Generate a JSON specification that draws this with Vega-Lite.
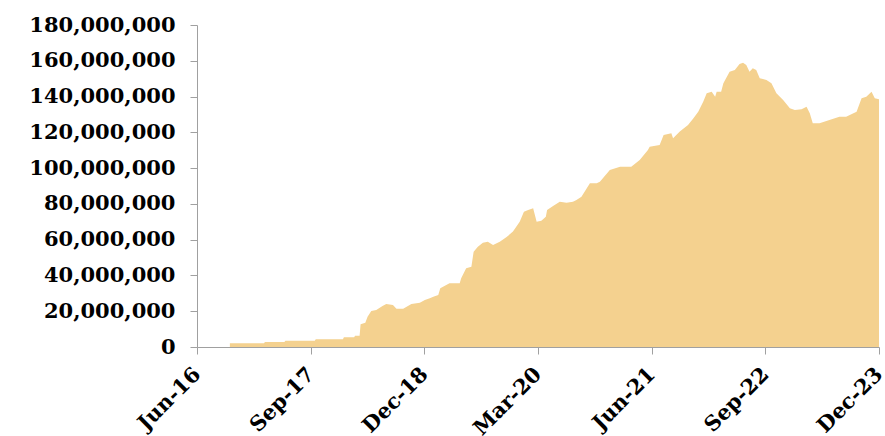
{
  "$schema": "https://vega.github.io/schema/vega-lite/v6.json",
  "width": 682,
  "height": 322,
  "autosize": {"type": "none"},
  "padding": {"left": 197, "top": 25, "right": 6, "bottom": 89},
  "background": "white",
  "config": {"view": {"stroke": null}},
  "data": {"values": [
    {"date": "2016-10-11", "value": 2100000},
    {"date": "2017-02-25", "value": 2100000},
    {"date": "2017-03-01", "value": 2800000},
    {"date": "2017-05-18", "value": 2800000},
    {"date": "2017-05-22", "value": 3500000},
    {"date": "2017-09-17", "value": 3500000},
    {"date": "2017-09-21", "value": 4300000},
    {"date": "2018-01-08", "value": 4300000},
    {"date": "2018-01-12", "value": 5400000},
    {"date": "2018-02-22", "value": 5400000},
    {"date": "2018-02-26", "value": 6300000},
    {"date": "2018-03-16", "value": 6300000},
    {"date": "2018-03-20", "value": 12700000},
    {"date": "2018-04-08", "value": 13600000},
    {"date": "2018-04-17", "value": 16900000},
    {"date": "2018-05-02", "value": 20100000},
    {"date": "2018-05-22", "value": 20700000},
    {"date": "2018-06-16", "value": 22900000},
    {"date": "2018-07-01", "value": 24000000},
    {"date": "2018-07-28", "value": 23500000},
    {"date": "2018-08-11", "value": 21400000},
    {"date": "2018-09-07", "value": 21400000},
    {"date": "2018-10-10", "value": 24000000},
    {"date": "2018-11-13", "value": 24800000},
    {"date": "2018-12-03", "value": 26300000},
    {"date": "2018-12-23", "value": 27200000},
    {"date": "2019-01-06", "value": 28100000},
    {"date": "2019-01-26", "value": 29100000},
    {"date": "2019-02-03", "value": 32800000},
    {"date": "2019-03-12", "value": 35600000},
    {"date": "2019-04-22", "value": 35600000},
    {"date": "2019-04-28", "value": 38400000},
    {"date": "2019-05-18", "value": 44000000},
    {"date": "2019-06-08", "value": 44900000},
    {"date": "2019-06-17", "value": 53300000},
    {"date": "2019-07-04", "value": 56100000},
    {"date": "2019-07-24", "value": 58300000},
    {"date": "2019-08-13", "value": 58900000},
    {"date": "2019-09-03", "value": 57000000},
    {"date": "2019-09-30", "value": 58900000},
    {"date": "2019-10-26", "value": 61300000},
    {"date": "2019-11-22", "value": 64500000},
    {"date": "2019-12-19", "value": 70000000},
    {"date": "2020-01-05", "value": 75600000},
    {"date": "2020-01-22", "value": 76600000},
    {"date": "2020-02-11", "value": 77500000},
    {"date": "2020-02-25", "value": 70000000},
    {"date": "2020-03-15", "value": 70600000},
    {"date": "2020-04-02", "value": 72800000},
    {"date": "2020-04-07", "value": 76600000},
    {"date": "2020-05-01", "value": 78800000},
    {"date": "2020-05-28", "value": 81200000},
    {"date": "2020-06-24", "value": 80700000},
    {"date": "2020-07-20", "value": 81200000},
    {"date": "2020-08-03", "value": 82200000},
    {"date": "2020-08-23", "value": 84000000},
    {"date": "2020-09-26", "value": 91500000},
    {"date": "2020-10-23", "value": 91500000},
    {"date": "2020-11-05", "value": 92400000},
    {"date": "2020-12-15", "value": 99000000},
    {"date": "2021-01-25", "value": 100800000},
    {"date": "2021-03-11", "value": 100800000},
    {"date": "2021-04-14", "value": 104500000},
    {"date": "2021-05-17", "value": 110100000},
    {"date": "2021-05-24", "value": 112000000},
    {"date": "2021-07-03", "value": 112900000},
    {"date": "2021-07-19", "value": 118500000},
    {"date": "2021-08-19", "value": 119500000},
    {"date": "2021-08-26", "value": 116700000},
    {"date": "2021-09-22", "value": 120400000},
    {"date": "2021-10-25", "value": 124100000},
    {"date": "2021-11-15", "value": 127800000},
    {"date": "2021-12-05", "value": 131500000},
    {"date": "2021-12-25", "value": 137100000},
    {"date": "2022-01-08", "value": 141800000},
    {"date": "2022-01-28", "value": 142700000},
    {"date": "2022-02-11", "value": 139900000},
    {"date": "2022-02-17", "value": 142700000},
    {"date": "2022-03-07", "value": 142700000},
    {"date": "2022-03-16", "value": 147400000},
    {"date": "2022-04-10", "value": 153900000},
    {"date": "2022-05-01", "value": 154800000},
    {"date": "2022-05-20", "value": 158200000},
    {"date": "2022-06-03", "value": 158900000},
    {"date": "2022-06-16", "value": 157600000},
    {"date": "2022-06-29", "value": 153900000},
    {"date": "2022-07-12", "value": 155800000},
    {"date": "2022-07-26", "value": 154800000},
    {"date": "2022-08-09", "value": 150200000},
    {"date": "2022-09-05", "value": 149300000},
    {"date": "2022-09-25", "value": 147400000},
    {"date": "2022-10-15", "value": 141800000},
    {"date": "2022-11-11", "value": 138100000},
    {"date": "2022-12-08", "value": 133400000},
    {"date": "2022-12-28", "value": 132500000},
    {"date": "2023-01-24", "value": 132900000},
    {"date": "2023-02-13", "value": 134300000},
    {"date": "2023-02-26", "value": 130600000},
    {"date": "2023-03-10", "value": 125100000},
    {"date": "2023-04-06", "value": 125100000},
    {"date": "2023-05-16", "value": 126900000},
    {"date": "2023-06-25", "value": 128700000},
    {"date": "2023-07-22", "value": 128700000},
    {"date": "2023-09-02", "value": 131500000},
    {"date": "2023-09-22", "value": 139000000},
    {"date": "2023-10-11", "value": 139900000},
    {"date": "2023-11-01", "value": 142700000},
    {"date": "2023-11-14", "value": 139000000},
    {"date": "2023-12-01", "value": 138500000}
  ]},
  "mark": {"type": "area", "color": "#F4D18F", "line": false, "interpolate": "linear"},
  "encoding": {
    "x": {
      "field": "date",
      "type": "temporal",
      "scale": {
        "type": "utc",
        "domain": [
          {"year": 2016, "month": 6, "date": 1, "utc": true},
          {"year": 2023, "month": 12, "date": 1, "utc": true}
        ]
      },
      "axis": {
        "title": null,
        "values": [
          {"year": 2016, "month": 6, "date": 1, "utc": true},
          {"year": 2017, "month": 9, "date": 1, "utc": true},
          {"year": 2018, "month": 12, "date": 1, "utc": true},
          {"year": 2020, "month": 3, "date": 1, "utc": true},
          {"year": 2021, "month": 6, "date": 1, "utc": true},
          {"year": 2022, "month": 9, "date": 1, "utc": true},
          {"year": 2023, "month": 12, "date": 1, "utc": true}
        ],
        "format": "%b-%y",
        "labelAngle": -45,
        "labelAlign": "right",
        "labelBaseline": "middle",
        "labelFont": "DejaVu Serif",
        "labelFontWeight": "bold",
        "labelFontSize": 21,
        "labelColor": "#000000",
        "labelPadding": 17,
        "labelOverlap": false,
        "labelBound": false,
        "labelFlush": false,
        "grid": false,
        "domainColor": "#A0A0A0",
        "tickColor": "#A0A0A0",
        "tickSize": 7
      }
    },
    "y": {
      "field": "value",
      "type": "quantitative",
      "scale": {"domain": [0, 180000000], "nice": false},
      "axis": {
        "title": null,
        "values": [0, 20000000, 40000000, 60000000, 80000000, 100000000, 120000000, 140000000, 160000000, 180000000],
        "format": ",d",
        "labelFont": "DejaVu Serif",
        "labelFontWeight": "bold",
        "labelFontSize": 21,
        "labelColor": "#000000",
        "labelPadding": 15,
        "labelOverlap": false,
        "grid": false,
        "domainColor": "#A0A0A0",
        "tickColor": "#A0A0A0",
        "tickSize": 7
      }
    }
  }
}
